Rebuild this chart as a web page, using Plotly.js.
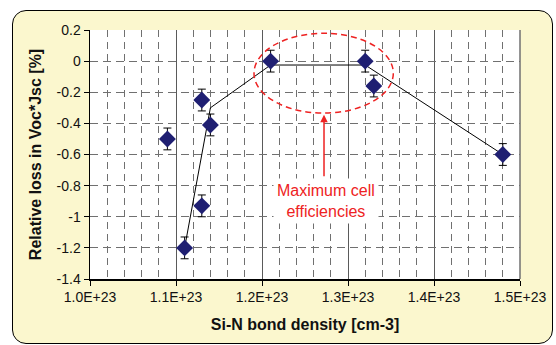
<!DOCTYPE html>
<html>
<head>
<meta charset="utf-8">
<script src="https://cdn.plot.ly/plotly-3.0.1.min.js"></script>
<style>
  html, body { margin: 0; padding: 0; background: #ffffff; }
  #wrap { position: relative; width: 556px; height: 345px; overflow: hidden; }
  #panel { position: absolute; left: 12px; top: 10px; width: 541px; height: 334px;
           background: #FBF7CE; border: 1.5px solid #000; border-radius: 14px; box-sizing: border-box; }
  #chart { position: absolute; left: 0; top: 0; width: 556px; height: 345px; }
</style>
</head>
<body>
<div id="wrap">
  <div id="panel"></div>
  <div id="chart"></div>
</div>
<script>
// Measured points (Si-N bond density, relative loss in Voc*Jsc %)
const density = [1.09e23, 1.11e23, 1.13e23, 1.14e23, 1.13e23, 1.21e23, 1.32e23, 1.33e23, 1.48e23];
const relLoss = [-0.50, -1.20, -0.25, -0.41, -0.93, 0.00, 0.00, -0.16, -0.60];
const errLoss = [0.07, 0.07, 0.07, 0.07, 0.07, 0.07, 0.07, 0.07, 0.07];

// Trend line drawn through the data
const trendX = [1.11e23, 1.14e23, 1.21e23, 1.32e23, 1.48e23];
const trendY = [-1.20, -0.30, -0.025, -0.025, -0.60];

// Tick labels
const xTickVals = [1.0e23, 1.1e23, 1.2e23, 1.3e23, 1.4e23, 1.5e23];
const xTickText = ["1.0E+23", "1.1E+23", "1.2E+23", "1.3E+23", "1.4E+23", "1.5E+23"];
const yTickVals = [0.2, 0, -0.2, -0.4, -0.6, -0.8, -1, -1.2, -1.4];
const yTickText = ["0.2", "0", "-0.2", "-0.4", "-0.6", "-0.8", "-1", "-1.2", "-1.4"];

const noteText = "Maximum cell<br>efficiencies";

const traces = [
  {
    x: trendX, y: trendY, type: 'scatter', mode: 'lines',
    line: { color: '#000000', width: 1 }, hoverinfo: 'skip', showlegend: false
  },
  {
    x: density, y: relLoss, type: 'scatter', mode: 'markers',
    marker: { symbol: 'diamond', size: 13, color: '#1F1F72' },
    error_y: { type: 'data', array: errLoss, visible: true, color: '#000000', thickness: 1, width: 4 },
    showlegend: false
  }
];

const layout = {
  width: 556, height: 345,
  margin: { l: 90, r: 36, t: 30, b: 66 },
  paper_bgcolor: 'rgba(0,0,0,0)',
  plot_bgcolor: '#ffffff',
  font: { family: 'Arial, "Liberation Sans", sans-serif', color: '#000000', size: 14 },
  showlegend: false,
  xaxis: {
    range: [1.0e23, 1.5e23],
    tickmode: 'array', tickvals: xTickVals, ticktext: xTickText,
    ticks: 'outside', ticklen: 5, tickcolor: '#000', tickwidth: 1,
    showline: true, linecolor: '#000', linewidth: 1.5,
    showgrid: true, gridcolor: '#5a5a5a', gridwidth: 1,
    zeroline: false,
    tickfont: { size: 14, color: '#111' },
    minor: { dtick: 0.02e23, tick0: 1.0e23, showgrid: true, gridcolor: '#707070', gridwidth: 1, griddash: '7px,5px', ticks: '' },
    title: { text: '<b>Si-N bond density [cm-3]</b>', font: { size: 16, color: '#111' }, standoff: 14 }
  },
  yaxis: {
    range: [-1.4, 0.2],
    tickmode: 'array', tickvals: yTickVals, ticktext: yTickText,
    ticks: 'outside', ticklen: 5, tickcolor: '#000', tickwidth: 1,
    showline: true, linecolor: '#000', linewidth: 1.5,
    showgrid: true, gridcolor: '#707070', gridwidth: 1, griddash: '8px,5px',
    zeroline: false,
    tickfont: { size: 14, color: '#111' },
    title: { text: '<b>Relative loss in Voc*Jsc [%]</b>', font: { size: 16, color: '#111' }, standoff: 11 }
  },
  shapes: [
    { type: 'line', xref: 'paper', yref: 'paper', x0: 1, x1: 1, y0: 0, y1: 1, line: { color: '#707070', width: 1.5 } },
    { type: 'circle', xref: 'x', yref: 'y', x0: 1.1907e23, x1: 1.3527e23, y0: -0.334, y1: 0.179,
      line: { color: '#EE2222', width: 1.5, dash: '6px,4px' } }
  ],
  annotations: [
    { x: 1.2721e23, y: -0.345, ax: 1.2721e23, ay: -0.75, xref: 'x', yref: 'y', axref: 'x', ayref: 'y',
      text: '', showarrow: true, arrowhead: 2, arrowsize: 1, arrowwidth: 1.5, arrowcolor: '#EE2222' },
    { x: 1.2744e23, y: -0.897, xref: 'x', yref: 'y', text: noteText, showarrow: false,
      font: { size: 16, color: '#EE2222' }, bgcolor: '#ffffff', borderpad: 3, align: 'center' }
  ]
};

Plotly.newPlot('chart', traces, layout, { displayModeBar: false, staticPlot: true });
</script>
</body>
</html>
